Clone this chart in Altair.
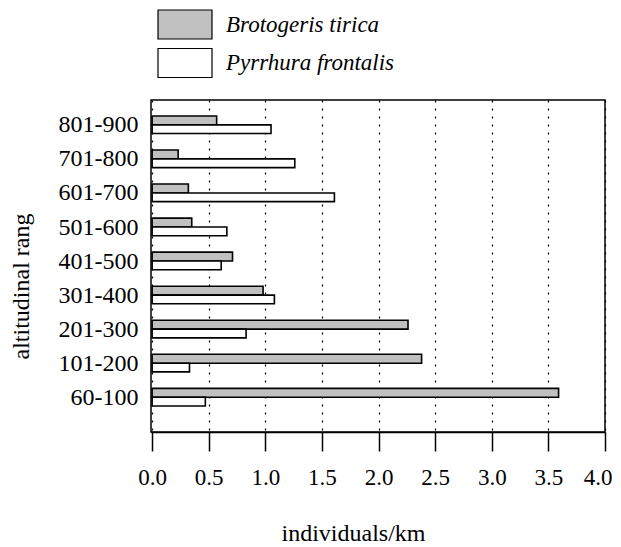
import altair as alt
import pandas as pd

categories = ["60-100", "101-200", "201-300", "301-400", "401-500",
              "501-600", "601-700", "701-800", "801-900"]
brotogeris = [3.59, 2.38, 2.26, 0.98, 0.71, 0.35, 0.32, 0.23, 0.57]
pyrrhura = [0.47, 0.33, 0.83, 1.08, 0.61, 0.66, 1.61, 1.26, 1.05]
species = ["Brotogeris tirica", "Pyrrhura frontalis"]

rows = []
for i, c in enumerate(categories):
    rows.append({"cat": c, "pos": i + 1, "species": species[0], "value": brotogeris[i]})
    rows.append({"cat": c, "pos": i + 1, "species": species[1], "value": pyrrhura[i]})
df = pd.DataFrame(rows)

labels_js = "[" + ",".join("'%s'" % c for c in categories) + "]"
FONT = "Liberation Serif"

bars = alt.Chart(df).transform_calculate(
    y_lo="datum.species == 'Brotogeris tirica' ? datum.pos : datum.pos - 0.255",
    y_hi="datum.species == 'Brotogeris tirica' ? datum.pos + 0.262 : datum.pos",
    base="0",
).mark_rect(stroke="black", strokeWidth=1.6).encode(
    x=alt.X("value:Q", title="individuals/km",
            scale=alt.Scale(domain=[-0.01, 4], nice=False, zero=False, padding=0),
            axis=alt.Axis(values=[0, 0.5, 1, 1.5, 2, 2.5, 3, 3.5, 4], format=".1f",
                          grid=True, gridColor="black", gridDash=[2, 6], gridWidth=1.2,
                          gridOpacity=1,
                          domain=True, domainColor="black", domainWidth=1.5,
                          ticks=True, tickColor="black", tickSize=19, tickWidth=1.5,
                          labelFont=FONT, labelFontSize=23, labelColor="black",
                          labelPadding=15, labelFlush=0.5, labelFlushOffset=7,
                          titleFont=FONT, titleFontSize=24, titleFontWeight="normal",
                          titleColor="black", titleX=202, titleY=101,
                          titleBaseline="middle", titleAlign="center")),
    x2="base:Q",
    y=alt.Y("y_lo:Q", title="altitudinal rang",
            scale=alt.Scale(domain=[-0.02, 9.73], nice=False, zero=False, padding=0),
            axis=alt.Axis(values=list(range(1, 10)),
                          labelExpr=labels_js + "[datum.value - 1]",
                          grid=False, ticks=False, domain=False,
                          labelFont=FONT, labelFontSize=24, labelColor="black",
                          labelPadding=13, labelBaseline="middle",
                          titleFont=FONT, titleFontSize=24, titleFontWeight="normal",
                          titleColor="black", titleAngle=270, titleX=-130, titleY=186,
                          titleBaseline="middle", titleAlign="center")),
    y2="y_hi:Q",
    fill=alt.Fill("species:N",
                  scale=alt.Scale(domain=species, range=["#c0c0c0", "#ffffff"]),
                  legend=alt.Legend(title=None, orient="none", legendX=19.5, legendY=-90,
                                    symbolType="M-2,-1.074L2,-1.074L2,1.074L-2,1.074Z",
                                    symbolSize=729, symbolStrokeColor="black",
                                    symbolStrokeWidth=1.2, symbolOpacity=1,
                                    labelFont=FONT, labelFontSize=23,
                                    labelFontStyle="italic", labelColor="black",
                                    labelOffset=26.5, rowPadding=3.5,
                                    labelLimit=400)),
)

chart = bars.properties(
    width=454, height=332,
    autosize=alt.AutoSizeParams(type="none"),
    padding={"left": 143, "top": 92, "right": 8, "bottom": 115},
).configure(background="white").configure_view(stroke="black", strokeWidth=1.5)

chart.save("out.html", embed_options={"renderer": "svg", "actions": False})
